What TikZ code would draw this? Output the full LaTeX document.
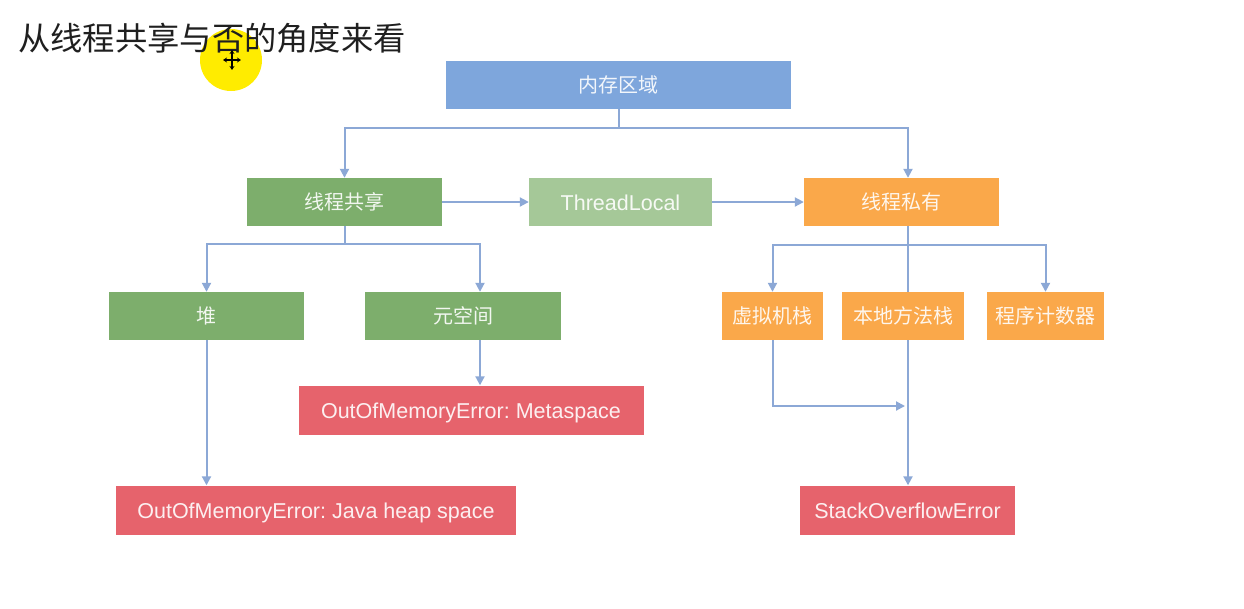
\documentclass[tikz,border=0pt]{standalone}
\usepackage{fontspec}
\setmainfont{Liberation Sans}
\newfontfamily\cjk{Noto Sans CJK SC}
\usetikzlibrary{arrows.meta,calc}
\frenchspacing
\definecolor{cblue}{RGB}{126,166,220}
\definecolor{cgreen}{RGB}{125,174,108}
\definecolor{clgreen}{RGB}{165,200,152}
\definecolor{corange}{RGB}{250,168,74}
\definecolor{cred}{RGB}{230,99,108}
\definecolor{cline}{RGB}{140,168,214}
\definecolor{cyel}{RGB}{255,236,0}
\tikzset{
  box/.style={rectangle, inner sep=0pt, minimum height=48pt, text=white, text opacity=0.9},
  zh/.style={box, font=\cjk\fontsize{20}{22}\selectfont},
  en/.style={box, font=\fontsize{21.5}{24}\selectfont, text height=16pt, text depth=0pt},
  arr/.style={draw=cline, line width=2pt, -{Triangle[length=9pt,width=9pt]}},
  ln/.style={draw=cline, line width=2pt},
}
\begin{document}
\begin{tikzpicture}[x=1pt,y=-1pt]
\fill[white] (0,0) rectangle (1244,608);
\useasboundingbox (0,0) rectangle (1244,608);
% cursor highlight
\fill[cyel] (231,60) circle (31);
\node[anchor=west, inner sep=0pt, text=black!88, font=\cjk\fontsize{32.3}{34}\selectfont] (title) at (18,38) {从线程共享与否的角度来看};
\draw[black, line width=1.2pt, {Stealth[length=4pt,width=5pt]}-{Stealth[length=4pt,width=5pt]}] (223,60) -- (241,60);
\draw[black, line width=1.2pt, {Stealth[length=4pt,width=5pt]}-{Stealth[length=4pt,width=5pt]}] (232,50) -- (232,70);
% nodes
\node[zh, fill=cblue,   minimum width=345pt] (mem)  at (618.5,85) {内存区域};
\node[zh, fill=cgreen,  minimum width=195pt] (share) at (344.5,202) {线程共享};
\node[en, fill=clgreen, minimum width=183pt] (tl)   at (620.5,202) {ThreadLocal};
\node[zh, fill=corange, minimum width=195pt] (priv) at (901.5,202) {线程私有};
\node[zh, fill=cgreen,  minimum width=195pt] (heap) at (206.5,316) {堆};
\node[zh, fill=cgreen,  minimum width=196pt] (meta) at (463,316) {元空间};
\node[zh, fill=corange, minimum width=101pt] (vm)   at (772.5,316) {虚拟机栈};
\node[zh, fill=corange, minimum width=122pt] (nat)  at (903,316) {本地方法栈};
\node[zh, fill=corange, minimum width=117pt] (pc)   at (1045.5,316) {程序计数器};
\node[en, fill=cred, minimum width=345pt, minimum height=49pt] (oommeta) at (471,410) {OutOfMemoryError: Metaspace};
\node[en, fill=cred, minimum width=400pt, minimum height=49pt] (oomheap) at (316,510) {OutOfMemoryError: Java heap space};
\node[en, fill=cred, minimum width=215pt, minimum height=49pt] (soe) at (907.5,510) {StackOverflowError};
% helper coordinates
\coordinate (px) at (908,0);
\coordinate (mx) at (480,0);
\coordinate (mg) at (905,406);
% connectors
\draw[ln] (mem.south) -- ++(0,19) coordinate (mj);
\draw[arr] (mj) -| (share.north);
\draw[arr] (mj) -| (px |- priv.north);
\draw[arr] (share.east) -- (tl.west);
\draw[arr] (tl.east) -- (priv.west);
\draw[ln] (share.south) -- ++(0,18) coordinate (sj);
\draw[arr] (sj) -| (heap.north);
\draw[arr] (sj) -| (mx |- meta.north);
\draw[arr] (mx |- meta.south) -- (mx |- oommeta.north);
\draw[arr] (heap.south) -- (heap.south |- oomheap.north);
\draw[ln] (px |- priv.south) -- (px |- nat.north);
\coordinate (pj) at ($(px |- priv.south)+(0,19)$);
\draw[arr] (pj) -| (vm.north);
\draw[arr] (pj) -| (pc.north);
\draw[arr] (px |- nat.south) -- (px |- soe.north);
\draw[arr] (vm.south) |- (mg);
\end{tikzpicture}
\end{document}
